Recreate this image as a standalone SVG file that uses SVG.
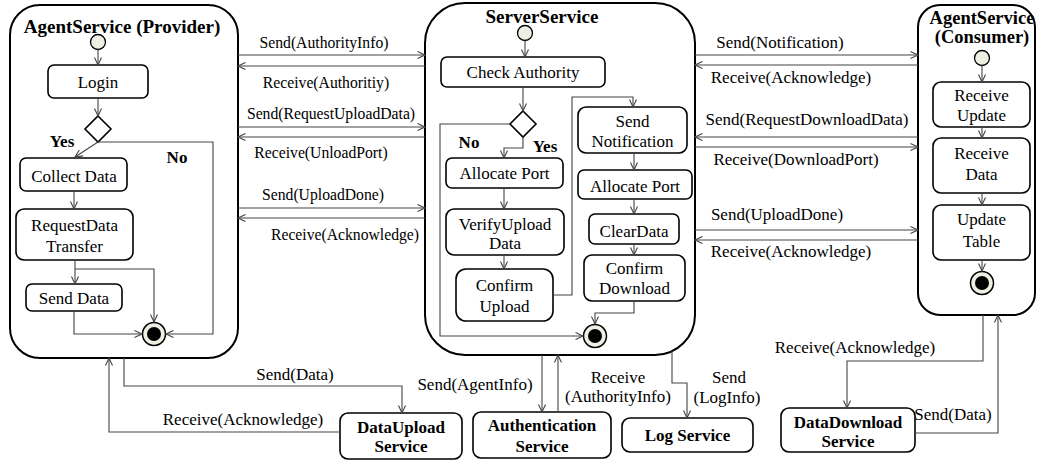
<svg xmlns="http://www.w3.org/2000/svg" width="1037" height="463" viewBox="0 0 1037 463" font-family="'Liberation Serif', 'DejaVu Serif', serif">
<style>
.panel{fill:#fff;stroke:#000;stroke-width:2}
.box{fill:#fff;stroke:#000;stroke-width:1.6}
.dia{fill:#fff;stroke:#000;stroke-width:1.6}
.init{fill:#efeee3;stroke:#000;stroke-width:1.3}
.fin{fill:#efeee3;stroke:#000;stroke-width:1.5}
.fin2{fill:#000}
.c{fill:none;stroke:#444;stroke-width:1.1}
.ca{fill:none;stroke:#444;stroke-width:1.1;marker-end:url(#ah)}
text{font-family:"Liberation Serif","DejaVu Serif",serif;fill:#000}
.t{font-size:17px;text-anchor:middle}
.tb{font-size:17px;font-weight:bold;text-anchor:middle}
.ti{font-size:19px;font-weight:bold;text-anchor:middle}
.tc{font-size:18.5px;font-weight:bold;text-anchor:middle}
.l{font-size:15.7px;text-anchor:middle}
.r{font-size:17px;text-anchor:middle}
</style>
<defs>
<marker id="ah" markerWidth="10" markerHeight="10" refX="8" refY="4" orient="auto" markerUnits="userSpaceOnUse">
<path d="M0.5,0.5 L8,4 L0.5,7.5" fill="none" stroke="#444" stroke-width="1.1"/>
</marker>
</defs>

<g id="provider">
<rect class="panel" x="10" y="5" width="228" height="353" rx="30"/>
<text class="ti" x="122" y="33">AgentService (Provider)</text>
<circle class="init" cx="98" cy="42" r="7.5"/>
<rect class="box" x="48" y="65" width="100" height="33" rx="6"/>
<text class="t" x="98" y="88">Login</text>
<polygon class="dia" points="98,116 111,129 98,142 85,129"/>
<text class="tb" x="62" y="147">Yes</text>
<text class="tb" x="177" y="163">No</text>
<rect class="box" x="20" y="158" width="107" height="33" rx="6"/>
<text class="t" x="74" y="182">Collect Data</text>
<rect class="box" x="16" y="209" width="117" height="51" rx="8"/>
<text class="t" x="74.5" y="231">RequestData</text>
<text class="t" x="74.5" y="252">Transfer</text>
<rect class="box" x="26" y="284" width="96" height="27" rx="6"/>
<text class="t" x="74" y="304">Send Data</text>
<circle class="fin" cx="154" cy="334" r="11.5"/>
<circle class="fin2" cx="154" cy="334" r="7"/>
</g>

<g id="server">
<rect class="panel" x="425" y="3" width="270" height="352" rx="40"/>
<text class="ti" x="542" y="23">ServerService</text>
<circle class="init" cx="525" cy="33" r="7.5"/>
<rect class="box" x="441" y="57" width="164" height="30" rx="6"/>
<text class="t" x="523" y="78">Check Authority</text>
<polygon class="dia" points="523,111 536,124 523,137 510,124"/>
<text class="tb" x="469" y="148">No</text>
<text class="tb" x="545" y="152">Yes</text>
<rect class="box" x="446" y="158" width="117" height="30" rx="6"/>
<text class="t" x="504.5" y="179">Allocate Port</text>
<rect class="box" x="446" y="209" width="118" height="46" rx="8"/>
<text class="t" x="505" y="230">VerifyUpload</text>
<text class="t" x="505" y="249">Data</text>
<rect class="box" x="456" y="269" width="97" height="52" rx="10"/>
<text class="t" x="504.5" y="291">Confirm</text>
<text class="t" x="504.5" y="312">Upload</text>
<rect class="box" x="578" y="107" width="109" height="46" rx="8"/>
<text class="t" x="632.5" y="127">Send</text>
<text class="t" x="632.5" y="147">Notification</text>
<rect class="box" x="578" y="170" width="114" height="29" rx="6"/>
<text class="t" x="635" y="192">Allocate Port</text>
<rect class="box" x="589" y="214" width="90" height="30" rx="6"/>
<text class="t" x="634" y="237">ClearData</text>
<rect class="box" x="584" y="255" width="101" height="46" rx="8"/>
<text class="t" x="634.5" y="274">Confirm</text>
<text class="t" x="634.5" y="294">Download</text>
<circle class="fin" cx="595" cy="336" r="11.5"/>
<circle class="fin2" cx="595" cy="336" r="7"/>
</g>

<g id="consumer">
<rect class="panel" x="918" y="5" width="117" height="310" rx="22"/>
<text class="tc" x="982" y="24">AgentService</text>
<text class="tc" x="982" y="43">(Consumer)</text>
<circle class="init" cx="982" cy="58" r="7.5"/>
<rect class="box" x="933" y="82" width="97" height="45" rx="8"/>
<text class="t" x="981.5" y="101">Receive</text>
<text class="t" x="981.5" y="121">Update</text>
<rect class="box" x="933" y="138" width="97" height="55" rx="8"/>
<text class="t" x="981.5" y="159">Receive</text>
<text class="t" x="981.5" y="180">Data</text>
<rect class="box" x="933" y="205" width="97" height="55" rx="8"/>
<text class="t" x="981.5" y="225">Update</text>
<text class="t" x="981.5" y="247">Table</text>
<circle class="fin" cx="982" cy="283" r="11.5"/>
<circle class="fin2" cx="982" cy="283" r="7"/>
</g>

<g id="dataupload">
<rect class="box" x="340" y="413" width="122" height="46" rx="8"/>
<text class="tb" x="401" y="433">DataUpload</text>
<text class="tb" x="401" y="452">Service</text>
</g>
<g id="authentication">
<rect class="box" x="473" y="412" width="138" height="46" rx="8"/>
<text class="tb" x="542" y="431">Authentication</text>
<text class="tb" x="542" y="452">Service</text>
</g>
<g id="logservice">
<rect class="box" x="622" y="418" width="131" height="34" rx="8"/>
<text class="tb" x="687.5" y="441">Log Service</text>
</g>
<g id="datadownload">
<rect class="box" x="781" y="408" width="134" height="44" rx="8"/>
<text class="tb" x="848" y="428">DataDownload</text>
<text class="tb" x="848" y="447">Service</text>
</g>

<g id="connectors">
<path class="ca" d="M98,49.5 V65"/>
<path class="ca" d="M98,98 V116"/>
<path class="ca" d="M98,142 L75,157"/>
<path class="ca" d="M98,142 H213 V334 H166"/>
<path class="ca" d="M74,191 V209"/>
<path class="ca" d="M75,260 V284"/>
<path class="ca" d="M75,269 H154 V322"/>
<path class="ca" d="M74,311 V334 H142"/>
<path class="ca" d="M525,40.5 V57"/>
<path class="ca" d="M523,87 V111"/>
<path class="ca" d="M510,124 H440 V336 H583"/>
<path class="ca" d="M523,137 V148 H504 V158"/>
<path class="ca" d="M504,188 V209"/>
<path class="ca" d="M504,255 V269"/>
<path class="ca" d="M553,295 H572 V97 H633 V107"/>
<path class="ca" d="M634,153 V170"/>
<path class="ca" d="M634,199 V214"/>
<path class="ca" d="M634,244 V255"/>
<path class="ca" d="M634,301 V313 H595 V324"/>
<path class="ca" d="M982,65.5 V82"/>
<path class="ca" d="M982,127 V138"/>
<path class="ca" d="M982,193 V205"/>
<path class="ca" d="M982,260 V271"/>
<path class="ca" d="M238,55 H425"/>
<path class="ca" d="M425,66 H238"/>
<path class="ca" d="M238,127 H425"/>
<path class="ca" d="M425,137 H238"/>
<path class="ca" d="M238,208 H425"/>
<path class="ca" d="M425,218 H238"/>
<text class="l" x="324" y="48">Send(AuthorityInfo)</text>
<text class="l" x="326" y="88">Receive(Authoritiy)</text>
<text class="l" x="331" y="119">Send(RequestUploadData)</text>
<text class="l" x="321" y="158">Receive(UnloadPort)</text>
<text class="l" x="323" y="200">Send(UploadDone)</text>
<text class="l" x="345" y="240">Receive(Acknowledge)</text>
<path class="ca" d="M695,55 H918"/>
<path class="ca" d="M918,65 H695"/>
<path class="ca" d="M918,137 H695"/>
<path class="ca" d="M695,147 H918"/>
<path class="ca" d="M695,230 H918"/>
<path class="ca" d="M918,240 H695"/>
<text class="r" x="780" y="48">Send(Notification)</text>
<text class="r" x="791" y="83">Receive(Acknowledge)</text>
<text class="r" x="807" y="125">Send(RequestDownloadData)</text>
<text class="r" x="796" y="165">Receive(DownloadPort)</text>
<text class="r" x="777" y="220">Send(UploadDone)</text>
<text class="r" x="791" y="257">Receive(Acknowledge)</text>
<path class="ca" d="M124,358 V386 H402 V413"/>
<path class="ca" d="M340,432 H109 V358"/>
<text class="r" x="295" y="380">Send(Data)</text>
<text class="r" x="243" y="425">Receive(Acknowledge)</text>
<path class="ca" d="M542,355 V412"/>
<path class="ca" d="M558,412 V355"/>
<path class="ca" d="M672,351 V383 H687 V418"/>
<text class="r" x="475" y="390">Send(AgentInfo)</text>
<text class="r" x="618" y="383">Receive</text>
<text class="r" x="618" y="402">(AuthorityInfo)</text>
<text class="r" x="729" y="383">Send</text>
<text class="r" x="727" y="403">(LogInfo)</text>
<path class="ca" d="M983,315 V361 H847 V408"/>
<path class="ca" d="M915,433 H998 V315"/>
<text class="r" x="855" y="353">Receive(Acknowledge)</text>
<text class="r" x="953" y="420">Send(Data)</text>
</g>
</svg>
